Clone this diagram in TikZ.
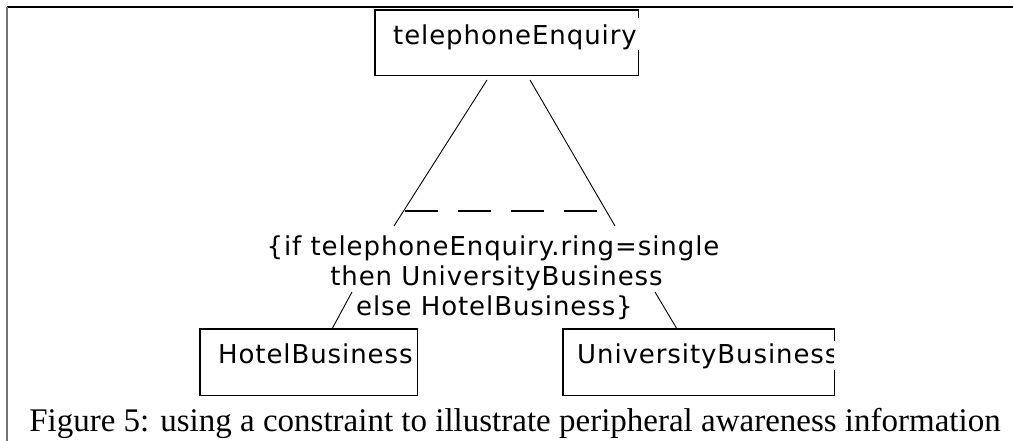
\documentclass[tikz,border=0pt]{standalone}
\usepackage{fontspec}
\setmainfont{Liberation Serif}
\newfontfamily\diagfont{DejaVu Sans}[LetterSpace=3.5]
\begin{document}
\begin{tikzpicture}[x=1pt,y=-1pt,
  boxline/.style={line width=1.6pt, line cap=rect},
  conn/.style={line width=0.9pt},
  lbl/.style={inner sep=0pt, font=\diagfont\fontsize{26}{30}\selectfont},
  shape box/.style={draw=none, inner sep=0pt, anchor=north west}]
\useasboundingbox (0,0) rectangle (1013,441);
% frame
\draw[line width=1.8pt] (7,7) -- (1013,7);
\draw[line width=1.8pt, black!55] (7,7) -- (7,441);
% top box
\node[shape box, minimum width=263pt, minimum height=65pt] (tel) at (375,10) {};
\draw[boxline] (tel.north east) ++(0,7) -- (tel.north east) -- (tel.north west) -- (tel.south west) -- (tel.south east) -- ++(0,-25);
\begin{scope}
\clip (375,10) rectangle (637,75);
\node[lbl, anchor=base west] (telt) at (393,45) {telephoneEnquiry};
\end{scope}
% hotel box
\node[shape box, minimum width=217pt, minimum height=66pt] (hot) at (200,329) {};
\draw[boxline] (hot.north west) rectangle (hot.south east);
\node[lbl, anchor=base west] (hott) at (218,363) {HotelBusiness};
% university box
\node[shape box, minimum width=271pt, minimum height=66pt] (uni) at (563,329) {};
\draw[boxline] (uni.north east) ++(0,11) -- (uni.north east) -- (uni.north west) -- (uni.south west) -- (uni.south east) -- ++(0,-25);
\begin{scope}
\clip (563,329) rectangle (833,395);
\node[lbl, anchor=base west] (unit) at (577,363) {UniversityBusiness};
\end{scope}
% constraint text
\node[lbl, anchor=base] (cons1) at (493,255) {\{if telephoneEnquiry.ring=single};
\node[lbl, anchor=base] (cons2) at (496.5,285) {then UniversityBusiness};
\node[lbl, anchor=base] (cons3) at (494.5,315) {else HotelBusiness\}};
% connectors
\coordinate (a1) at (487,80);
\coordinate (a2) at (394,226);
\coordinate (b1) at (530,80);
\coordinate (b2) at (615,226);
\draw[conn] (a1) -- (a2);
\draw[conn] (b1) -- (b2);
\coordinate (d1) at (405,211);
\coordinate (d2) at (597,211);
\draw[line width=1.6pt, dash pattern=on 33pt off 20pt] (d1) -- (d2);
\coordinate (h1) at (352,292);
\coordinate (u1) at (655,292);
\draw[conn] (h1) -- (hot.north west -| 332,0);
\draw[conn] (u1) -- (uni.north west -| 677,0);
% caption
\node[inner sep=0pt, anchor=base, font=\fontsize{33}{38}\selectfont] (cap) at (515,431) {Figure 5: using a constraint to illustrate peripheral awareness information};
\end{tikzpicture}
\end{document}
